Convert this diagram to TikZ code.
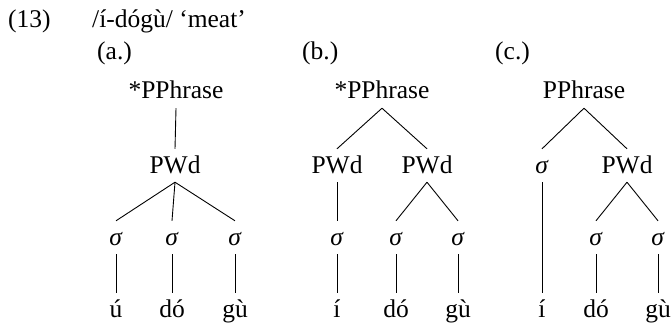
\documentclass[tikz,border=0pt]{standalone}
\usepackage{fontspec}
\setmainfont{Liberation Serif}
\begin{document}
\begin{tikzpicture}[x=1pt,y=-1pt,font=\fontsize{25.5}{30}\selectfont,
  lab/.style={inner sep=0pt, anchor=base west},
  tn/.style={inner xsep=0pt, inner ysep=6pt, text height=18pt, text depth=3pt, anchor=base},
  edge/.style={line width=0.9pt}]
\useasboundingbox (0,0) rectangle (671,326);
% header
\node[lab] (num) at (8,28) {(13)};
\node[lab] (title) at (92,28) {/í-dógù/ ‘meat’};
\node[lab] (la) at (97,60) {(a.)};
\node[lab] (lb) at (302,60) {(b.)};
\node[lab] (lc) at (495,60) {(c.)};
% tree a
\node[tn] (aP) at (176,99) {*PPhrase};
\node[tn] (aW) at (175,173) {PWd};
\node[tn] (as1) at (116,245) {\textit{σ}};
\node[tn] (as2) at (172,245) {\textit{σ}};
\node[tn] (as3) at (235,245) {\textit{σ}};
\node[tn] (aw1) at (116,317) {ú};
\node[tn] (aw2) at (172,317) {dó};
\node[tn] (aw3) at (235,317) {gù};
\draw[edge] (aP.south) -- (aW.north);
\draw[edge] (aW.south) -- (as1.north);
\draw[edge] (aW.south) -- (as2.north);
\draw[edge] (aW.south) -- (as3.north);
\draw[edge] (as1.south) -- (aw1.north);
\draw[edge] (as2.south) -- (aw2.north);
\draw[edge] (as3.south) -- (aw3.north);
% tree b
\node[tn] (bP) at (382,99) {*PPhrase};
\node[tn] (bW1) at (337,173) {PWd};
\node[tn] (bW2) at (427,173) {PWd};
\node[tn] (bs1) at (337,245) {\textit{σ}};
\node[tn] (bs2) at (396,245) {\textit{σ}};
\node[tn] (bs3) at (458,245) {\textit{σ}};
\node[tn] (bw1) at (337,317) {í};
\node[tn] (bw2) at (396,317) {dó};
\node[tn] (bw3) at (458,317) {gù};
\draw[edge] (bP.south) -- (bW1.north);
\draw[edge] (bP.south) -- (bW2.north);
\draw[edge] (bW1.south) -- (bs1.north);
\draw[edge] (bW2.south) -- (bs2.north);
\draw[edge] (bW2.south) -- (bs3.north);
\draw[edge] (bs1.south) -- (bw1.north);
\draw[edge] (bs2.south) -- (bw2.north);
\draw[edge] (bs3.south) -- (bw3.north);
% tree c
\node[tn] (cP) at (584,99) {PPhrase};
\node[tn] (cs0) at (542,173) {\textit{σ}};
\node[tn] (cW) at (627,173) {PWd};
\node[tn] (cs2) at (596,245) {\textit{σ}};
\node[tn] (cs3) at (658,245) {\textit{σ}};
\node[tn] (cw1) at (542,317) {í};
\node[tn] (cw2) at (596,317) {dó};
\node[tn] (cw3) at (658,317) {gù};
\draw[edge] (cP.south) -- (cs0.north);
\draw[edge] (cP.south) -- (cW.north);
\draw[edge] (cW.south) -- (cs2.north);
\draw[edge] (cW.south) -- (cs3.north);
\draw[edge] (cs0.south) -- (cw1.north);
\draw[edge] (cs2.south) -- (cw2.north);
\draw[edge] (cs3.south) -- (cw3.north);
\end{tikzpicture}
\end{document}
